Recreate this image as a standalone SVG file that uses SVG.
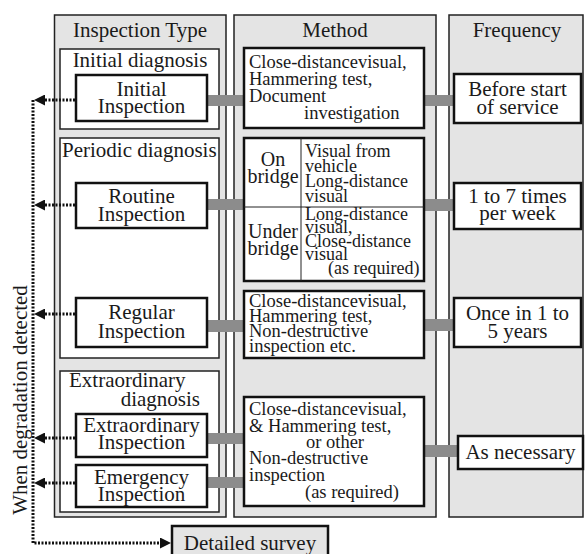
<svg xmlns="http://www.w3.org/2000/svg" width="585" height="554" viewBox="0 0 585 554">
<defs>
<style>
.col{fill:#e4e4e4;stroke:#222;stroke-width:1.5}
.grp{fill:#fff;stroke:#222;stroke-width:1.5}
.box{fill:#fff;stroke:#111;stroke-width:2.5}
.bar{fill:#8c8c8c}
.thin{stroke:#222;stroke-width:1;fill:none}
.dot{fill:none;stroke:#111;stroke-width:3;stroke-dasharray:2 1.5}
text{font-family:"Liberation Serif","Times New Roman",serif;fill:#1a1a1a}
.t21{font-size:21px}
.t20{font-size:20px}
.t18{font-size:18.5px}
.t17{font-size:18px}
.c{text-anchor:middle}
</style>
<marker id="ah" viewBox="0 0 10 10" refX="0" refY="5" markerWidth="12" markerHeight="11" markerUnits="userSpaceOnUse" orient="auto">
<path d="M0,0 L10,5 L0,10 z" fill="#111"/>
</marker>
</defs>
<rect width="585" height="554" fill="#fff"/>

<g id="col-type">
<rect class="col" x="54.5" y="15" width="171.5" height="502"/>
<text class="t21 c" x="140" y="37">Inspection Type</text>
</g>
<g id="col-method">
<rect class="col" x="234" y="15" width="202" height="502"/>
<text class="t21 c" x="335" y="37">Method</text>
</g>
<g id="col-freq">
<rect class="col" x="449" y="15" width="134" height="502"/>
<text class="t21 c" x="517" y="37">Frequency</text>
</g>

<g id="grp-initial">
<rect class="grp" x="60" y="49" width="159" height="80"/>
<text class="t21 c" x="140" y="67">Initial diagnosis</text>
</g>
<g id="grp-periodic">
<rect class="grp" x="60" y="138" width="159" height="220"/>
<text class="t21" x="62" y="157">Periodic diagnosis</text>
</g>
<g id="grp-extra">
<rect class="grp" x="60" y="371" width="159" height="141"/>
<text class="t21" x="69" y="387">Extraordinary</text>
<text class="t21" x="200" y="406" text-anchor="end">diagnosis</text>
</g>

<g id="connectors">
<rect class="bar" x="207" y="95" width="38" height="11"/>
<rect class="bar" x="424" y="95" width="31" height="11"/>
<rect class="bar" x="207" y="199" width="38" height="11"/>
<rect class="bar" x="424" y="199" width="31" height="12"/>
<rect class="bar" x="207" y="320" width="38" height="12"/>
<rect class="bar" x="424" y="319" width="31" height="12"/>
<rect class="bar" x="207" y="433" width="38" height="11"/>
<rect class="bar" x="207" y="477" width="38" height="11"/>
<rect class="bar" x="424" y="445" width="35" height="12"/>
<path class="dot" d="M75,100 H45" marker-end="url(#ah)"/>
<path class="dot" d="M75,205 H45" marker-end="url(#ah)"/>
<path class="dot" d="M75,314 H45" marker-end="url(#ah)"/>
<path class="dot" d="M75,438 H45" marker-end="url(#ah)"/>
<path class="dot" d="M75,483 H45" marker-end="url(#ah)"/>
<path class="dot" d="M33,100 V543 H160" marker-end="url(#ah)"/>
<text class="t21 c" transform="translate(27,400) rotate(-90)">When degradation detected</text>
</g>

<g id="initial-inspection">
<rect class="box" x="76" y="75" width="131" height="46"/>
<text class="t21 c" x="141.5" y="96">Initial</text>
<text class="t21 c" x="141.5" y="113">Inspection</text>
</g>
<g id="routine-inspection">
<rect class="box" x="76" y="183" width="131" height="45"/>
<text class="t21 c" x="141.5" y="203">Routine</text>
<text class="t21 c" x="141.5" y="221">Inspection</text>
</g>
<g id="regular-inspection">
<rect class="box" x="76" y="298" width="131" height="49"/>
<text class="t21 c" x="141.5" y="319">Regular</text>
<text class="t21 c" x="141.5" y="338">Inspection</text>
</g>
<g id="extraordinary-inspection">
<rect class="box" x="76" y="414" width="131" height="43"/>
<text class="t21 c" x="141.5" y="432">Extraordinary</text>
<text class="t21 c" x="141.5" y="449">Inspection</text>
</g>
<g id="emergency-inspection">
<rect class="box" x="76" y="465" width="131" height="42"/>
<text class="t21 c" x="141.5" y="484">Emergency</text>
<text class="t21 c" x="141.5" y="501">Inspection</text>
</g>

<g id="method-initial">
<rect class="box" x="244" y="48" width="180" height="80"/>
<text class="t18" x="249" y="68">Close-distancevisual,</text>
<text class="t18" x="249" y="85">Hammering test,</text>
<text class="t18" x="249" y="102">Document</text>
<text class="t18" x="304" y="119">investigation</text>
</g>
<g id="method-routine">
<rect class="box" x="244" y="138" width="180" height="143"/>
<path class="thin" d="M301,138 V281 M244,207 H424"/>
<text class="t20 c" x="273" y="166">On</text>
<text class="t20 c" x="273" y="183">bridge</text>
<text class="t17" x="305" y="157">Visual from</text>
<text class="t17" x="305" y="172">vehicle</text>
<text class="t17" x="305" y="187">Long-distance</text>
<text class="t17" x="305" y="202">visual</text>
<text class="t20 c" x="273" y="238">Under</text>
<text class="t20 c" x="273" y="255">bridge</text>
<text class="t17" x="305" y="220">Long-distance</text>
<text class="t17" x="305" y="233">visual,</text>
<text class="t17" x="305" y="247">Close-distance</text>
<text class="t17" x="305" y="260">visual</text>
<text class="t17" x="328" y="274">(as required)</text>
</g>
<g id="method-regular">
<rect class="box" x="244" y="291" width="180" height="67"/>
<text class="t18" x="249" y="307">Close-distancevisual,</text>
<text class="t18" x="249" y="322">Hammering test,</text>
<text class="t18" x="249" y="337">Non-destructive</text>
<text class="t18" x="249" y="352">inspection etc.</text>
</g>
<g id="method-extra">
<rect class="box" x="244" y="397" width="180" height="109"/>
<text class="t18" x="249" y="415">Close-distancevisual,</text>
<text class="t18" x="249" y="432">&amp; Hammering test,</text>
<text class="t18 c" x="335" y="448">or other</text>
<text class="t18" x="249" y="464">Non-destructive</text>
<text class="t18" x="249" y="481">inspection</text>
<text class="t18" x="305" y="498">(as required)</text>
</g>

<g id="freq-initial">
<rect class="box" x="454" y="74" width="127" height="49"/>
<text class="t21 c" x="517.5" y="96">Before start</text>
<text class="t21 c" x="517.5" y="114">of service</text>
</g>
<g id="freq-routine">
<rect class="box" x="454" y="183" width="127" height="46"/>
<text class="t21 c" x="517.5" y="203">1 to 7 times</text>
<text class="t21 c" x="517.5" y="220">per week</text>
</g>
<g id="freq-regular">
<rect class="box" x="454" y="298" width="127" height="49"/>
<text class="t21 c" x="517.5" y="320">Once in 1 to</text>
<text class="t21 c" x="517.5" y="338">5 years</text>
</g>
<g id="freq-extra">
<rect class="box" x="458" y="436" width="125" height="33"/>
<text class="t21 c" x="520.5" y="459">As necessary</text>
</g>

<g id="detailed-survey">
<rect x="172" y="526" width="156" height="32" fill="#e4e4e4" stroke="#111" stroke-width="2.5"/>
<text class="t21 c" x="250" y="550">Detailed survey</text>
</g>
</svg>
